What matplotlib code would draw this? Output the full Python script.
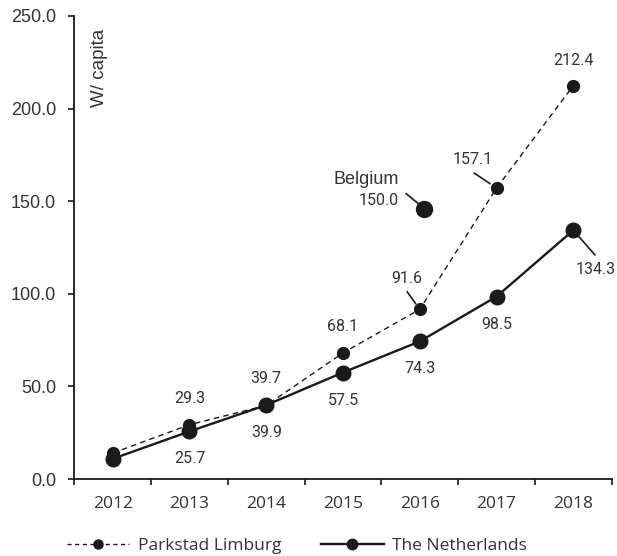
import matplotlib
matplotlib.use("Agg")
import matplotlib.pyplot as plt
from matplotlib.lines import Line2D

years = ["2012", "2013", "2014", "2015", "2016", "2017", "2018"]
parkstad = [14.0, 29.3, 39.7, 68.1, 91.6, 157.1, 212.4]
netherlands = [10.9, 25.7, 39.9, 57.5, 74.3, 98.5, 134.3]
belgium_x = [4.06]      # sits just right of the 2016 slot in the source
belgium_y = [146.0]     # drawn a bit below its printed value in the source
belgium_label = "150.0"

INK = "#1a1a1a"
TXT = "#333333"
PX = 0.72  # pixels -> points at dpi 100

fig = plt.figure(figsize=(6.17, 5.56), dpi=100)
ax = fig.add_axes([74.3 / 617, 1 - 479 / 556, (611.7 - 74.3) / 617, (479 - 16) / 556])

x = list(range(len(years)))
ax.plot(x, parkstad, color=INK, lw=1.0, ls=(0, (4, 3)), marker="o", ms=8.5, mec=INK, mfc=INK,
        label="Parkstad Limburg", zorder=3)
ax.plot(x, netherlands, color=INK, lw=1.7, marker="o", ms=10.5, mec=INK, mfc=INK,
        label="The Netherlands", zorder=4)
ax.plot(belgium_x, belgium_y, ls="none", marker="o", ms=11.5, color=INK, zorder=4)

ax.set_xlim(-0.5, len(years) - 0.5)
ax.set_ylim(0, 250)
ax.set_yticks([0, 50, 100, 150, 200, 250])
ax.set_yticklabels([f"{v:.1f}" for v in [0, 50, 100, 150, 200, 250]],
                   fontfamily="Liberation Sans", fontsize=13, color=TXT)
ax.set_xticks([i - 0.5 for i in range(len(years) + 1)])
ax.set_xticklabels([])
ax.set_xticks(x, minor=True)
ax.set_xticklabels(years, minor=True, fontfamily="Open Sans", fontsize=12.5, color=TXT)
ax.tick_params(axis="x", which="major", length=4, width=1.2, color=INK, direction="out")
ax.tick_params(axis="x", which="minor", length=0, pad=12)
ax.tick_params(axis="y", length=4, width=1.2, color=INK, pad=9)
for s in ["top", "right"]:
    ax.spines[s].set_visible(False)
for s in ["left", "bottom"]:
    ax.spines[s].set_linewidth(1.3)
    ax.spines[s].set_color(INK)

fig.text(100 / 617, 1 - 29 / 556, "W/ capita", rotation=90,
         fontfamily="Liberation Sans", fontsize=13.5, color=TXT, ha="center", va="top")

lab_font = dict(fontfamily="Roboto", fontsize=11.5, color=TXT, ha="center", va="center")

# plain labels: Parkstad above, Netherlands below (2012 has none)
for i in range(1, 4):
    ax.annotate(f"{parkstad[i]:.1f}", (x[i], parkstad[i]), xytext=(0, 26.5 * PX),
                textcoords="offset points", **lab_font)
ax.annotate(f"{parkstad[6]:.1f}", (x[6], parkstad[6]), xytext=(0, 25 * PX),
            textcoords="offset points", **lab_font)
for i in range(1, 6):
    ax.annotate(f"{netherlands[i]:.1f}", (x[i], netherlands[i]), xytext=(0, -27.5 * PX),
                textcoords="offset points", **lab_font)

# labels with leader lines: (series, index, label offset px, leader start px, shrink px)
leaders = [
    (parkstad, 4, (-12.7, 30.4), (-12.7, 17.7), 7),
    (parkstad, 5, (-23.4, 28.3), (-22.4, 15.0), 7.8),
    (netherlands, 6, (22.7, -39.7), (21.7, -24.7), 8),
]
for series, i, (lx, ly), (sx, sy), shr in leaders:
    ax.annotate(f"{series[i]:.1f}", (x[i], series[i]), xytext=(lx * PX, ly * PX),
                textcoords="offset points", **lab_font)
    ax.annotate("", (x[i], series[i]), xytext=(sx * PX, sy * PX), textcoords="offset points",
                arrowprops=dict(arrowstyle="-", color=INK, lw=1.2, shrinkA=0, shrinkB=shr * PX))

bx, by = belgium_x[0], belgium_y[0]
ax.annotate("", (bx, by), xytext=(-18.3 * PX, 15 * PX), textcoords="offset points",
            arrowprops=dict(arrowstyle="-", color=INK, lw=1.2, shrinkA=0, shrinkB=7.8 * PX))
ax.annotate(belgium_label, (bx, by), xytext=(-25.3 * PX, 8 * PX), textcoords="offset points",
            fontfamily="Roboto", fontsize=11.5, color=TXT, ha="right", va="center")
ax.annotate("Belgium", (bx, by), xytext=(-25.3 * PX, 29 * PX), textcoords="offset points",
            fontfamily="Liberation Sans", fontsize=13, color=TXT, ha="right", va="center")

handles = [
    Line2D([], [], color=INK, lw=1.0, ls=(0, (3, 2.5)), marker="o", ms=6.5, mfc=INK, mec=INK),
    Line2D([], [], color=INK, lw=1.7, marker="o", ms=7.5, mfc=INK, mec=INK),
]
fig.legend(handles, ["Parkstad Limburg", "The Netherlands"], loc="center left",
           bbox_to_anchor=(66.7 / 617, 10 / 556), ncol=2, frameon=False,
           prop={"family": "Open Sans", "size": 12.5}, labelcolor=TXT,
           handlelength=3.6, handletextpad=0.5, columnspacing=2.3,
           borderpad=0, borderaxespad=0)

fig.savefig("out.png", dpi=100)
